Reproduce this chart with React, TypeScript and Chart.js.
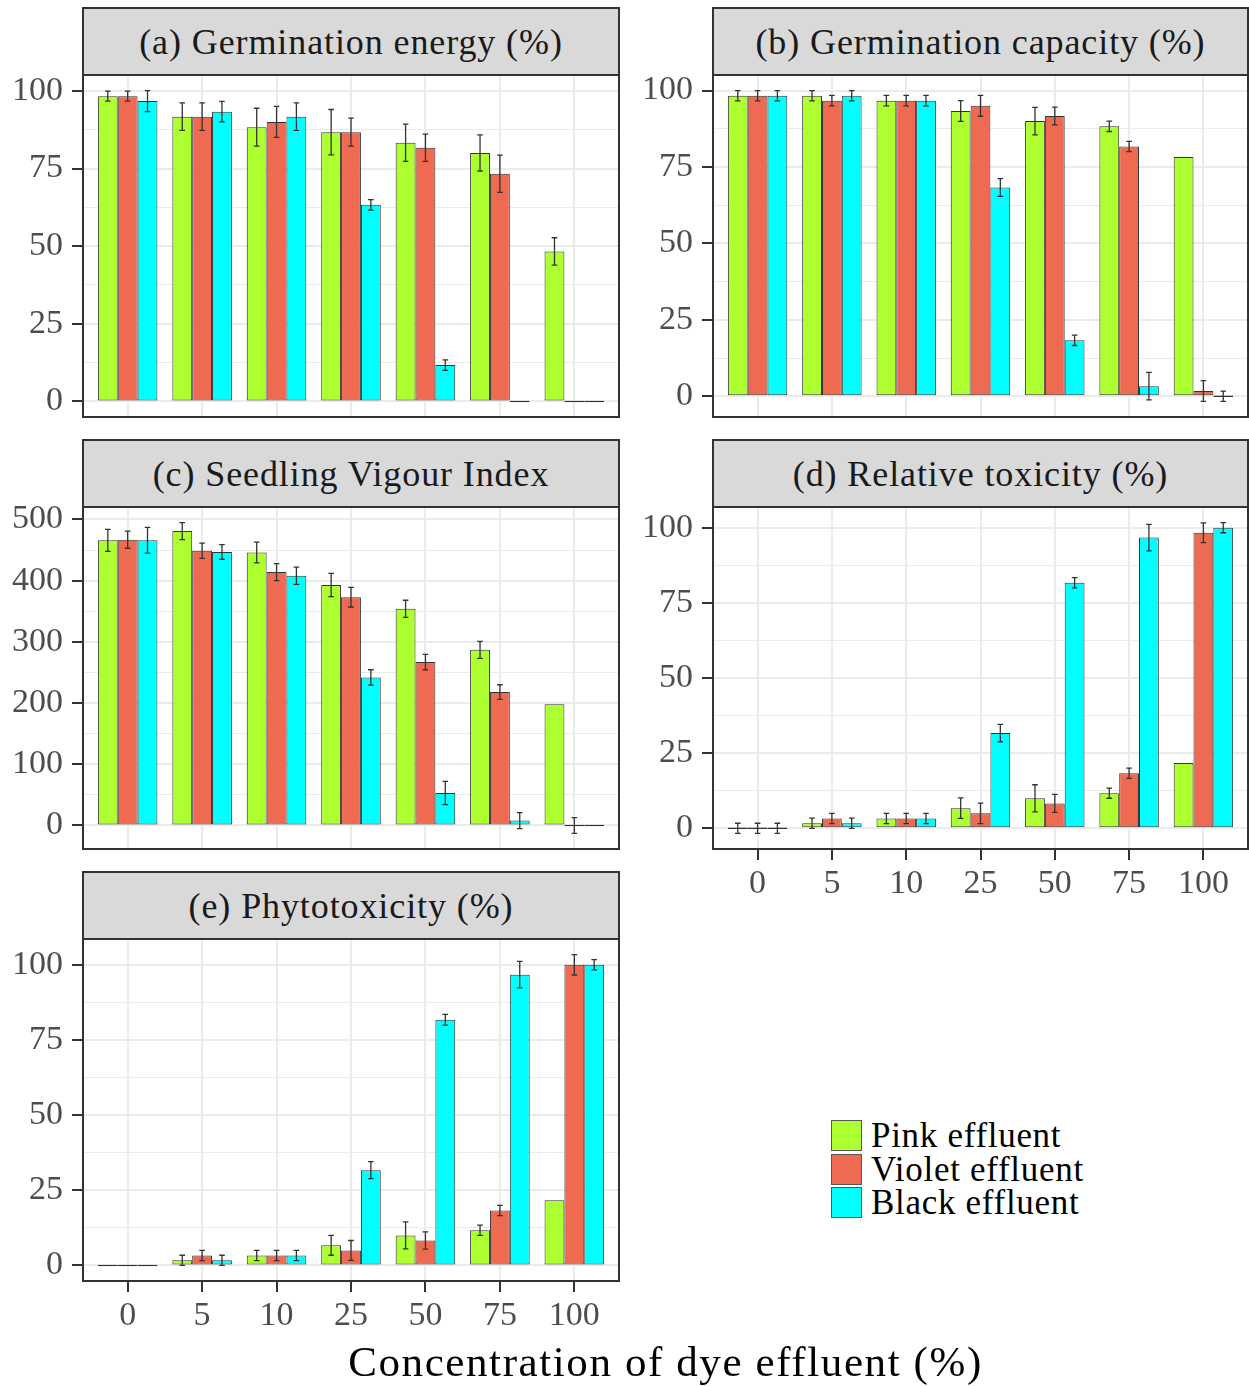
import React, { useEffect, useRef } from 'react';
import { Chart, registerables } from 'chart.js';

Chart.register(...registerables);

// ---------------- data ----------------
const CONCENTRATIONS = ['0', '5', '10', '25', '50', '75', '100'];
const SERIES_NAMES = ['Pink effluent', 'Violet effluent', 'Black effluent'];
const SERIES_COLORS = ['#ADFF2F', '#EE6A50', '#00FFFF'];

// (a) Germination energy (%)
const GE_PINK = [98.3, 91.7, 88.3, 86.7, 83.3, 80.0, 48.3];
const GE_PINK_ERR = [1.6, 4.4, 6.1, 7.3, 6.0, 5.8, 4.4];
const GE_VIOLET = [98.3, 91.7, 90.0, 86.7, 81.7, 73.3, 0];
const GE_VIOLET_ERR = [1.6, 4.4, 5.0, 4.5, 4.4, 6.0, 0];
const GE_BLACK = [96.7, 93.3, 91.7, 63.3, 11.7, 0, 0];
const GE_BLACK_ERR = [3.4, 3.3, 4.4, 1.7, 1.7, 0, 0];

// (b) Germination capacity (%)
const GC_PINK = [98.3, 98.3, 96.7, 93.3, 90.0, 88.3, 78.3];
const GC_PINK_ERR = [1.7, 1.7, 1.7, 3.4, 4.5, 1.7, 0];
const GC_VIOLET = [98.3, 96.7, 96.7, 95.0, 91.7, 81.7, 1.7];
const GC_VIOLET_ERR = [1.7, 1.7, 1.7, 3.4, 2.9, 1.7, 3.4];
const GC_BLACK = [98.3, 98.3, 96.7, 68.3, 18.3, 3.3, 0];
const GC_BLACK_ERR = [1.7, 1.7, 1.7, 2.9, 1.7, 4.5, 1.7];

// (c) Seedling Vigour Index
const SVI_PINK = [466, 481, 446, 393, 354, 287, 198];
const SVI_PINK_ERR = [18, 14, 17, 19, 14, 14, 0];
const SVI_VIOLET = [467, 449, 414, 373, 267, 218, 0];
const SVI_VIOLET_ERR = [14, 12.5, 14, 16, 12.5, 12, 13];
const SVI_BLACK = [466, 447, 408, 242, 53, 8, 0];
const SVI_BLACK_ERR = [21, 12, 14, 12.5, 19, 13, 0];

// (d) Relative toxicity (%)
const RT_PINK = [0, 1.7, 3.3, 6.7, 10.0, 11.7, 21.7];
const RT_PINK_ERR = [1.7, 1.7, 1.7, 3.4, 4.5, 1.7, 0];
const RT_VIOLET = [0, 3.3, 3.3, 5.0, 8.3, 18.3, 98.3];
const RT_VIOLET_ERR = [1.7, 1.7, 1.7, 3.4, 3.0, 1.7, 3.3];
const RT_BLACK = [0, 1.7, 3.3, 31.7, 81.7, 96.7, 100];
const RT_BLACK_ERR = [1.7, 1.7, 1.7, 2.9, 1.7, 4.4, 1.7];

// (e) Phytotoxicity (%)
const PT_PINK = [0, 1.7, 3.3, 6.7, 10.0, 11.7, 21.7];
const PT_PINK_ERR = [0, 1.7, 1.7, 3.3, 4.5, 1.7, 0];
const PT_VIOLET = [0, 3.3, 3.3, 5.0, 8.3, 18.3, 100];
const PT_VIOLET_ERR = [0, 1.7, 1.7, 3.3, 2.9, 1.7, 3.4];
const PT_BLACK = [0, 1.7, 3.3, 31.7, 81.7, 96.7, 100];
const PT_BLACK_ERR = [0, 1.7, 1.7, 2.8, 1.8, 4.4, 1.7];

const PCT_TICKS = [0, 25, 50, 75, 100];
const SVI_TICKS = [0, 100, 200, 300, 400, 500];

const X_TITLE = 'Concentration of dye effluent (%)';

// ---------------- layout ----------------
const COL_LEFT = [83, 713];
const COL_W = [536, 535];
const STRIP_TOP = [8, 440, 872];
const PLOT_TOP = [75, 507, 939];
const PLOT_H = 342;
const AXW = 83;
const PT = 24;
const PR = 8;
const PB = 8;
const XH = 70;

const FONT_FAMILY = "'Liberation Serif', 'DejaVu Serif', serif";
const TICK_COLOR = '#4d4d4d';
const DARK = '#333333';

type PanelDef = {
  title: string;
  series: number[][];
  errors: number[][];
  ticks: number[];
  row: number;
  col: number;
  showX: boolean;
};

const PANELS: PanelDef[] = [
  { title: '(a) Germination energy (%)', series: [GE_PINK, GE_VIOLET, GE_BLACK], errors: [GE_PINK_ERR, GE_VIOLET_ERR, GE_BLACK_ERR], ticks: PCT_TICKS, row: 0, col: 0, showX: false },
  { title: '(b) Germination capacity (%)', series: [GC_PINK, GC_VIOLET, GC_BLACK], errors: [GC_PINK_ERR, GC_VIOLET_ERR, GC_BLACK_ERR], ticks: PCT_TICKS, row: 0, col: 1, showX: false },
  { title: '(c) Seedling Vigour Index', series: [SVI_PINK, SVI_VIOLET, SVI_BLACK], errors: [SVI_PINK_ERR, SVI_VIOLET_ERR, SVI_BLACK_ERR], ticks: SVI_TICKS, row: 1, col: 0, showX: false },
  { title: '(d) Relative toxicity (%)', series: [RT_PINK, RT_VIOLET, RT_BLACK], errors: [RT_PINK_ERR, RT_VIOLET_ERR, RT_BLACK_ERR], ticks: PCT_TICKS, row: 1, col: 1, showX: true },
  { title: '(e) Phytotoxicity (%)', series: [PT_PINK, PT_VIOLET, PT_BLACK], errors: [PT_PINK_ERR, PT_VIOLET_ERR, PT_BLACK_ERR], ticks: PCT_TICKS, row: 2, col: 0, showX: true },
];

function PanelChart({ p }: { p: PanelDef }) {
  const ref = useRef<HTMLCanvasElement | null>(null);
  useEffect(() => {
    if (!ref.current) return;
    // y limits as ggplot: data range (incl. error bars) expanded by 5%
    let lo = 0;
    let hi = 0;
    p.series.forEach((s, si) =>
      s.forEach((v, i) => {
        lo = Math.min(lo, v - p.errors[si][i]);
        hi = Math.max(hi, v + p.errors[si][i]);
      })
    );
    const span = hi - lo;
    const yMin = lo - span * 0.05;
    const yMax = hi + span * 0.05;
    const step = p.ticks[1] - p.ticks[0];
    const minor: number[] = [];
    for (let k = 0; k <= p.ticks.length; k++) {
      const m = p.ticks[0] - step / 2 + k * step;
      if (m > yMin && m < yMax) minor.push(m);
    }
    const allY = [...p.ticks.filter((t) => t >= yMin && t <= yMax), ...minor].sort((a, b) => a - b);
    const isMajor = (v: number) => p.ticks.includes(v);
    const CAP = 2.8;

    const errPlugin = {
      id: 'errbars',
      afterDatasetsDraw(chart: any) {
        const { ctx } = chart;
        const y = chart.scales.y;
        ctx.save();
        ctx.strokeStyle = DARK;
        ctx.lineWidth = 1.3;
        chart.data.datasets.forEach((ds: any, di: number) => {
          const meta = chart.getDatasetMeta(di);
          meta.data.forEach((bar: any, i: number) => {
            const e = p.errors[di][i];
            if (!e) return;
            const v = ds.data[i].y;
            const x = bar.x;
            const yt = y.getPixelForValue(v + e);
            const yb = y.getPixelForValue(v - e);
            ctx.beginPath();
            ctx.moveTo(x, yt);
            ctx.lineTo(x, yb);
            ctx.moveTo(x - CAP, yt);
            ctx.lineTo(x + CAP, yt);
            ctx.moveTo(x - CAP, yb);
            ctx.lineTo(x + CAP, yb);
            ctx.stroke();
          });
        });
        const a = chart.chartArea;
        ctx.strokeStyle = DARK;
        ctx.lineWidth = 2;
        ctx.strokeRect(a.left, a.top, a.right - a.left, a.bottom - a.top);
        ctx.restore();
      },
    };

    const chart = new Chart(ref.current, {
      type: 'bar',
      data: {
        datasets: p.series.map((s, si) => ({
          label: SERIES_NAMES[si],
          data: s.map((v, i) => ({ x: i + 1, y: v })),
          backgroundColor: SERIES_COLORS[si],
          borderColor: DARK,
          borderWidth: 1,
          borderSkipped: false,
          minBarLength: 1.5,
          categoryPercentage: 0.8,
          barPercentage: 1.0,
        })),
      },
      options: {
        animation: false,
        responsive: false,
        maintainAspectRatio: false,
        layout: { padding: { top: PT, right: PR, bottom: PB, left: 0 } },
        plugins: { legend: { display: false }, tooltip: { enabled: false } },
        scales: {
          x: {
            type: 'linear',
            min: 0.4,
            max: 7.6,
            offset: false,
            afterBuildTicks: (s: any) => {
              s.ticks = CONCENTRATIONS.map((_, i) => ({ value: i + 1 }));
            },
            afterFit: (s: any) => {
              s.height = p.showX ? XH : 0;
              s.paddingLeft = 0;
              s.paddingRight = 0;
            },
            border: { display: false },
            grid: {
              offset: false,
              color: '#ebebeb',
              lineWidth: 2,
              drawTicks: p.showX,
              tickLength: 11,
              tickColor: DARK,
              tickWidth: 2,
            },
            ticks: {
              display: p.showX,
              autoSkip: false,
              maxRotation: 0,
              padding: 4,
              color: TICK_COLOR,
              font: { family: FONT_FAMILY, size: 34 },
              callback: (v: any) => CONCENTRATIONS[Math.round(v) - 1] ?? '',
            },
          },
          y: {
            type: 'linear',
            min: yMin,
            max: yMax,
            afterBuildTicks: (s: any) => {
              s.ticks = allY.map((v) => ({ value: v }));
            },
            afterFit: (s: any) => {
              s.width = AXW;
              s.paddingTop = 0;
              s.paddingBottom = 0;
            },
            border: { display: false },
            grid: {
              color: '#ebebeb',
              lineWidth: (ctx: any) => (ctx.tick && isMajor(ctx.tick.value) ? 2 : 1),
              drawTicks: true,
              tickLength: 11,
              tickColor: (ctx: any) => (ctx.tick && isMajor(ctx.tick.value) ? DARK : 'rgba(0,0,0,0)'),
              tickWidth: 2,
            },
            ticks: {
              autoSkip: false,
              padding: 9,
              color: TICK_COLOR,
              font: { family: FONT_FAMILY, size: 34 },
              callback: (v: any) => (isMajor(v) ? String(v) : ''),
            },
          },
        },
      } as any,
      plugins: [errPlugin],
    });
    return () => chart.destroy();
  }, [p]);

  const left = COL_LEFT[p.col];
  const w = COL_W[p.col];
  const top = PLOT_TOP[p.row];
  const cw = AXW + w + PR;
  const ch = PT + PLOT_H + (p.showX ? XH : 0) + PB;
  return (
    <>
      <canvas
        ref={ref}
        width={cw}
        height={ch}
        style={{ position: 'absolute', left: left - AXW, top: top - PT, width: cw, height: ch }}
      />
      <div
        style={{
          position: 'absolute',
          left: left - 1,
          top: STRIP_TOP[p.row] - 1,
          width: w + 2,
          height: top - STRIP_TOP[p.row] + 2,
          boxSizing: 'border-box',
          border: `2px solid ${DARK}`,
          background: '#d9d9d9',
          display: 'flex',
          alignItems: 'center',
          justifyContent: 'center',
          fontFamily: FONT_FAMILY,
          fontSize: 36,
          letterSpacing: '0.9px',
          color: '#1a1a1a',
          whiteSpace: 'nowrap',
        }}
      >
        {p.title}
      </div>
    </>
  );
}

export default function App() {
  return (
    <div style={{ position: 'absolute', left: 0, top: 0, width: 1249, height: 1386, background: '#fff', overflow: 'hidden' }}>
      {PANELS.map((p) => (
        <PanelChart key={p.title} p={p} />
      ))}
      <div
        style={{
          position: 'absolute',
          left: 83,
          width: 1165,
          top: 1334,
          height: 54,
          display: 'flex',
          alignItems: 'center',
          justifyContent: 'center',
          fontFamily: FONT_FAMILY,
          fontSize: 43,
          letterSpacing: '1.6px',
          color: '#000',
          whiteSpace: 'nowrap',
        }}
      >
        {X_TITLE}
      </div>
      <div style={{ position: 'absolute', left: 831, top: 1119 }}>
        {SERIES_NAMES.map((n, i) => (
          <div key={n} style={{ display: 'flex', alignItems: 'center', height: 33.5 }}>
            <div
              style={{
                width: 31,
                height: 31,
                boxSizing: 'border-box',
                border: '1px solid #555',
                background: SERIES_COLORS[i],
              }}
            />
            <div
              style={{
                marginLeft: 9,
                fontFamily: FONT_FAMILY,
                fontSize: 35,
                letterSpacing: '0.7px',
                color: '#000',
                lineHeight: '33px',
                whiteSpace: 'nowrap',
              }}
            >
              {n}
            </div>
          </div>
        ))}
      </div>
    </div>
  );
}
